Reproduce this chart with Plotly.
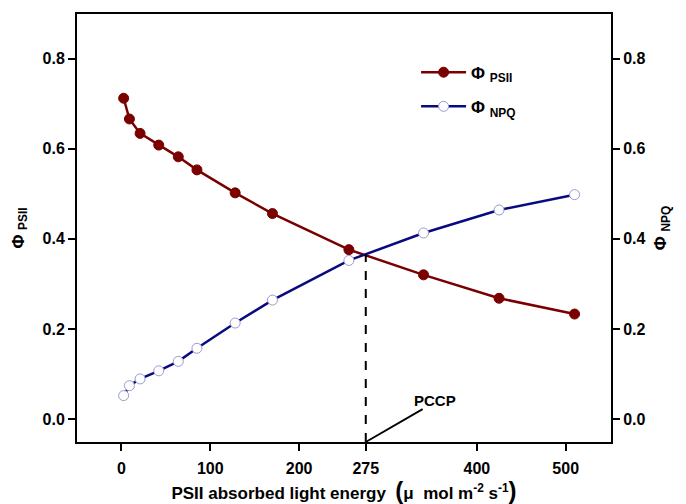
import plotly.graph_objects as go

# Data
x_vals = [2.5, 9, 21, 42, 64, 85, 128, 170, 256, 340, 425, 510]
phi_psii = [0.712, 0.666, 0.634, 0.608, 0.582, 0.553, 0.502, 0.456, 0.376, 0.320, 0.268, 0.233]
phi_npq = [0.052, 0.074, 0.089, 0.107, 0.128, 0.157, 0.213, 0.264, 0.352, 0.413, 0.464, 0.498]
x_ticks = [0, 100, 200, 275, 400, 500]
y_ticks = [0.0, 0.2, 0.4, 0.6, 0.8]
pccp_x = 275
pccp_y = 0.365
pccp_label_x = 353
pccp_label_y = 0.042
pccp_line_end = (339, 0.022)

x_range = [-50, 551]
y_range = [-0.051, 0.899]

FONT = "Liberation Sans Narrow, Arial Narrow, Liberation Sans, Arial, sans-serif"

fig = go.Figure()
fig.add_trace(go.Scatter(
    x=x_vals, y=phi_psii, mode="lines+markers",
    name="Φ <sub>PSII</sub>", legendgroup="a",
    line=dict(color="#7a0000", width=2.5),
    marker=dict(color="#7a0000", size=10, line=dict(color="#7a0000", width=1)),
))
fig.add_trace(go.Scatter(
    x=x_vals, y=phi_npq, mode="lines+markers",
    name="Φ <sub>NPQ</sub>", legendgroup="b",
    line=dict(color="#0a0a80", width=2.5),
    marker=dict(color="white", size=10, line=dict(color="#9a9ad0", width=1)),
))
# invisible trace to activate y2
fig.add_trace(go.Scatter(x=[x_vals[0]], y=[phi_npq[0]], yaxis="y2", mode="markers",
                         marker=dict(opacity=0), showlegend=False, hoverinfo="skip"))

# dashed line at PCCP
fig.add_shape(type="line", xref="x", yref="y", x0=pccp_x, x1=pccp_x,
              y0=y_range[0], y1=pccp_y, line=dict(color="black", width=2, dash="dash"))
# pointer line to label
fig.add_shape(type="line", xref="x", yref="y", x0=pccp_x, y0=y_range[0],
              x1=pccp_line_end[0], y1=pccp_line_end[1], line=dict(color="black", width=1.8))
fig.add_annotation(x=pccp_label_x, y=pccp_label_y, xref="x", yref="y", text="PCCP",
                   showarrow=False, font=dict(size=15, family=FONT, color="black", weight="bold"))

axis_common = dict(showgrid=False, zeroline=False, showline=True, linecolor="black",
                   linewidth=2, ticks="outside", ticklen=7, tickwidth=1.5, tickcolor="black",
                   automargin=False,
                   tickfont=dict(size=16, family=FONT, color="black", weight="bold"))

title_font = dict(size=17, family=FONT, color="black", weight="bold")

fig.update_layout(
    width=686, height=504,
    margin=dict(l=77, r=75, t=14, b=62),
    plot_bgcolor="white", paper_bgcolor="white",
    font=dict(family=FONT, color="black", weight="bold"),
    xaxis=dict(range=x_range, tickvals=x_ticks, mirror=True, ticklabelstandoff=4,
               title=dict(text="PSII absorbed light energy  <span style='font-size:24px'>(</span>μ  mol m<sup>-2</sup> s<sup>-1</sup><span style='font-size:24px'>)</span>",
                          font=title_font, standoff=12),
               **axis_common),
    yaxis=dict(range=y_range, tickvals=y_ticks, tickformat=".1f", mirror=True,
               title=dict(text="Φ <sub>PSII</sub>", font=title_font, standoff=14),
               **axis_common),
    yaxis2=dict(range=y_range, tickvals=y_ticks, tickformat=".1f", overlaying="y", side="right",
                title=dict(text="Φ <sub>NPQ</sub>", font=title_font, standoff=10),
                **axis_common),
    showlegend=True,
    legend=dict(x=0.635, y=0.905, xanchor="left", yanchor="top", bgcolor="rgba(0,0,0,0)",
                font=dict(size=17, family=FONT, color="black", weight="bold"),
                tracegroupgap=9, itemwidth=45),
)

fig.write_html("out.html")
